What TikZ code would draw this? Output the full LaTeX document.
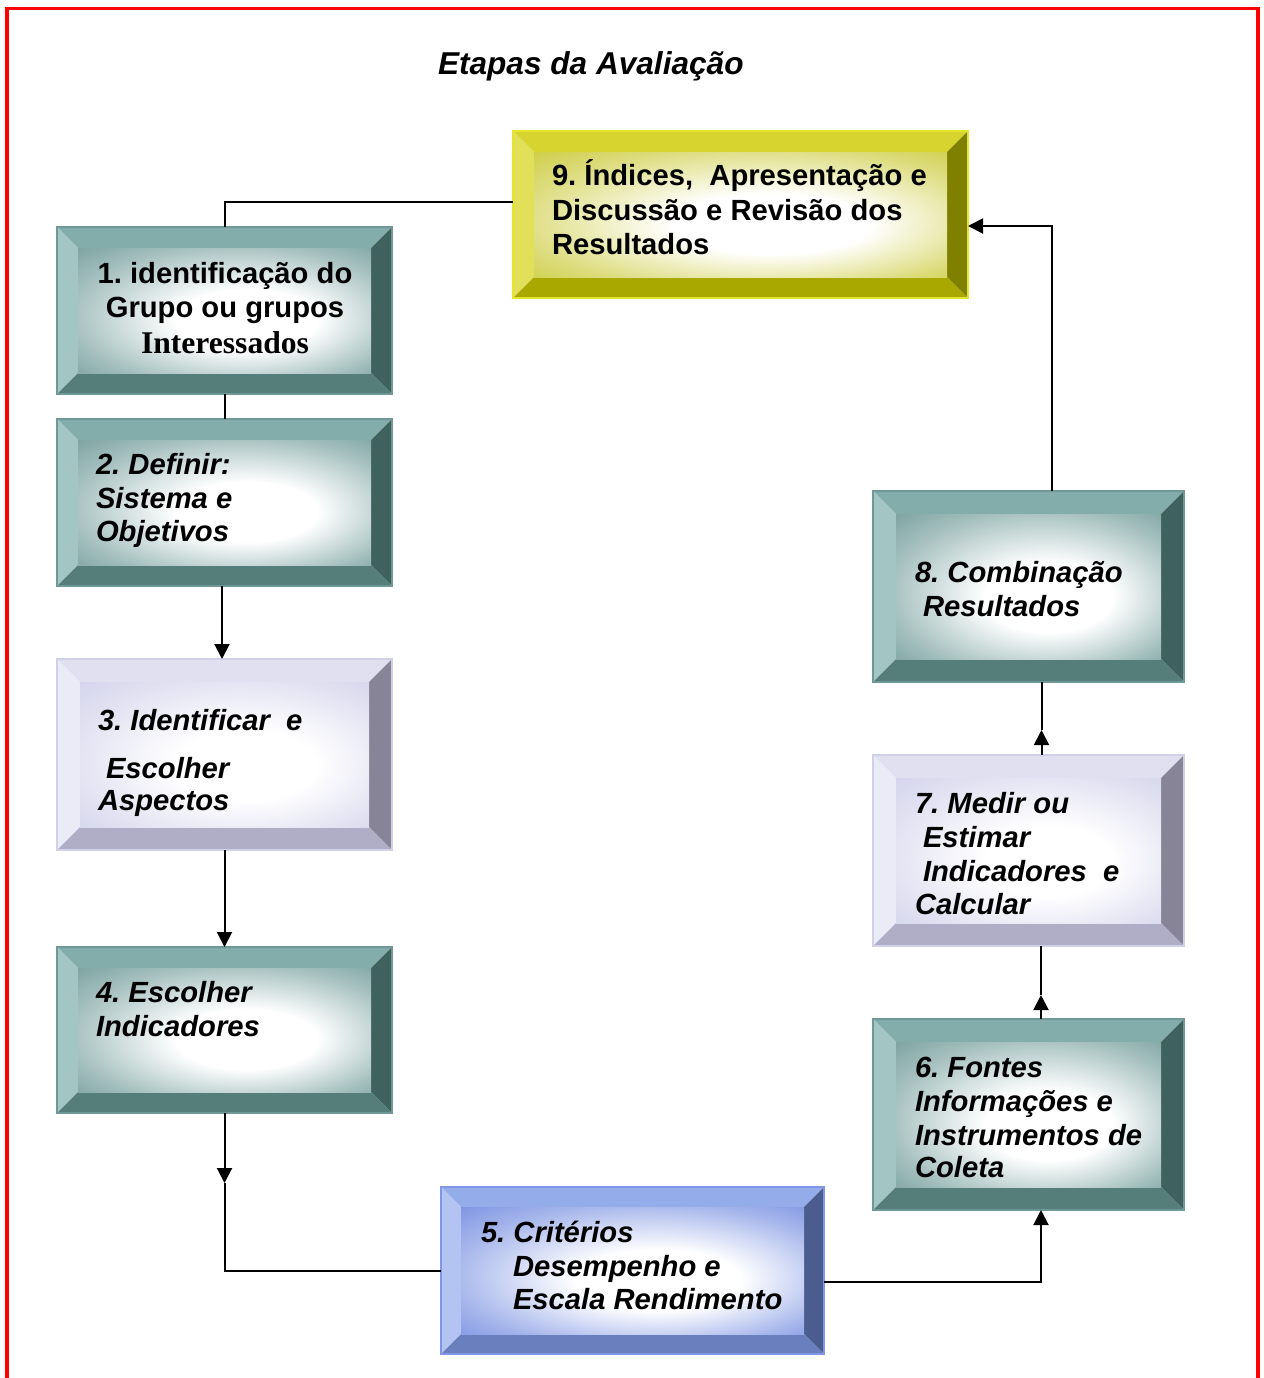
\documentclass[tikz,border=0pt]{standalone}
\usepackage{fontspec}
\setmainfont{Liberation Sans}
\newfontfamily\timesbold{Liberation Serif}
\usetikzlibrary{calc,fit,arrows.meta}
\frenchspacing

% bevel palettes: T top, L left, R right, B bottom, F face tint, E outline
\definecolor{tealT}{HTML}{82ADAA}
\definecolor{tealL}{HTML}{A3C5C3}
\definecolor{tealR}{HTML}{3F625F}
\definecolor{tealB}{HTML}{557E7B}
\definecolor{tealF}{HTML}{7AA2A0}
\definecolor{tealE}{HTML}{6F9896}
\definecolor{lavT}{HTML}{E0E0F0}
\definecolor{lavL}{HTML}{EBEBF7}
\definecolor{lavR}{HTML}{868496}
\definecolor{lavB}{HTML}{B0AEC6}
\definecolor{lavF}{HTML}{D4D4EC}
\definecolor{lavE}{HTML}{D0D0E6}
\definecolor{bluT}{HTML}{95ACEB}
\definecolor{bluL}{HTML}{B3C4F3}
\definecolor{bluR}{HTML}{4A5D8E}
\definecolor{bluB}{HTML}{6A80BE}
\definecolor{bluF}{HTML}{7C93E2}
\definecolor{bluE}{HTML}{7F97E6}
\definecolor{yelT}{HTML}{D7D430}
\definecolor{yelL}{HTML}{E2DF58}
\definecolor{yelR}{HTML}{7F7F00}
\definecolor{yelB}{HTML}{A9A800}
\definecolor{yelF}{HTML}{CECD45}
\definecolor{yelE}{HTML}{E5E530}

% face shadings: white glow slightly right of and below the centre, tinted rim
\newcommand\faceshading[1]{%
  \pgfdeclareradialshading{#1face}{\pgfpoint{5bp}{-5bp}}{%
    color(0bp)=(white); color(12bp)=(white); color(29bp)=(#1F!70);
    color(38bp)=(#1F); color(50bp)=(#1F)}}
\faceshading{teal}
\faceshading{lav}
\faceshading{blu}
\faceshading{yel}

\tikzset{
  lbl/.style={anchor=base west, inner sep=0pt, outer sep=0pt,
    font=\fontsize{14.6}{17}\selectfont\bfseries},
  lbli/.style={lbl, font=\fontsize{14.6}{17}\selectfont\bfseries\itshape},
  link/.style={line width=1pt, black},
  arr/.style={link, -{Triangle[length=7.5pt,width=7.5pt]}},
}

% #1 name, #2-#5 outer corners, #6 bevel depth, #7 palette
\newcommand\bevelbox[7]{%
  \node[fit={(#2,#3) (#4,#5)}, inner sep=0pt, outer sep=0pt] (#1) {};
  \coordinate (#1-a) at ($(#1.north west)+(#6,#6)$);
  \coordinate (#1-b) at ($(#1.north east)+(-#6,#6)$);
  \coordinate (#1-c) at ($(#1.south east)+(-#6,-#6)$);
  \coordinate (#1-d) at ($(#1.south west)+(#6,-#6)$);
  \fill[#7T] (#1.north west) -- (#1.north east) -- (#1-b) -- (#1-a) -- cycle;
  \fill[#7L] (#1.north west) -- (#1-a) -- (#1-d) -- (#1.south west) -- cycle;
  \fill[#7R] (#1.north east) -- (#1.south east) -- (#1-c) -- (#1-b) -- cycle;
  \fill[#7B] (#1.south west) -- (#1-d) -- (#1-c) -- (#1.south east) -- cycle;
  \shade[shading=#7face] (#1-a) rectangle (#1-c);
  \draw[#7E, line width=0.6pt] (#1.north west) rectangle (#1.south east);
}

\begin{document}
\begin{tikzpicture}[x=0.5pt, y=-0.5pt]
\useasboundingbox (0,0) rectangle (1264,1378);

% frame
\draw[red, line width=1.8pt] (7,1378) -- (7,8.5) -- (1258,8.5) -- (1258,1378);

% title
\node[lbl, font=\fontsize{15.8}{18}\selectfont\bfseries\itshape] (title) at (438,74) {Etapas da Avaliação};

% boxes
\bevelbox{b9}{513}{131}{968}{298}{21}{yel}
\bevelbox{b1}{57}{227}{392}{394}{21}{teal}
\bevelbox{b2}{57}{419}{392}{586}{21}{teal}
\bevelbox{b3}{57}{659}{392}{850}{23}{lav}
\bevelbox{b4}{57}{947}{392}{1113}{21}{teal}
\bevelbox{b5}{441}{1187}{824}{1354}{20}{blu}
\bevelbox{b6}{873}{1019}{1184}{1210}{23}{teal}
\bevelbox{b7}{873}{755}{1184}{946}{23}{lav}
\bevelbox{b8}{873}{491}{1184}{682}{23}{teal}

% labels
\node[lbl] (t9a) at (552,185) {9. Índices,~ Apresentação e};
\node[lbl] (t9b) at (552,220) {Discussão e Revisão dos};
\node[lbl] (t9c) at (552,254) {Resultados};

\node[lbl, anchor=base] (t1a) at (225,283) {1. identificação do};
\node[lbl, anchor=base] (t1b) at (225,317) {Grupo ou grupos};
\node[lbl, anchor=base, font=\fontsize{15.8}{18}\selectfont\timesbold\bfseries] (t1c) at (225,353) {Interessados};

\node[lbli] (t2a) at (96,474) {2. Definir:};
\node[lbli] (t2b) at (96,508) {Sistema e};
\node[lbli] (t2c) at (96,541) {Objetivos};

\node[lbli] (t3a) at (98,730) {3. Identificar~ e};
\node[lbli] (t3b) at (106,778) {Escolher};
\node[lbli] (t3c) at (98,810) {Aspectos};

\node[lbli] (t4a) at (96,1002) {4. Escolher};
\node[lbli] (t4b) at (96,1036) {Indicadores};

\node[lbli] (t5a) at (481,1242) {5. Critérios};
\node[lbli] (t5b) at (513,1276) {Desempenho e};
\node[lbli] (t5c) at (513,1309) {Escala Rendimento};

\node[lbli] (t6a) at (915,1077) {6. Fontes};
\node[lbli] (t6b) at (915,1111) {Informações e};
\node[lbli] (t6c) at (915,1145) {Instrumentos de};
\node[lbli] (t6d) at (915,1177) {Coleta};

\node[lbli] (t7a) at (915,813) {7. Medir ou};
\node[lbli] (t7b) at (923,847) {Estimar};
\node[lbli] (t7c) at (923,881) {Indicadores~ e};
\node[lbli] (t7d) at (915,914) {Calcular};

\node[lbli] (t8a) at (915,582) {8. Combinação};
\node[lbli] (t8b) at (923,616) {Resultados};

% connectors
\draw[link] ([yshift=6.25pt]b9.west) -| (b1.north);
\draw[link] (b1.south) -- (b2.north);
\draw[arr] ([xshift=-1.25pt]b2.south) -- ([xshift=-1.25pt]b3.north);
\draw[arr] (b3.south) -- (b4.north);
\coordinate (k4) at (b4.south |- 0,1183);
\draw[arr] (b4.south) -- (k4);
\draw[link] (k4) |- (b5.west);
\draw[arr] ([yshift=-5.75pt]b5.east) -| ([xshift=6.25pt]b6.south);
\coordinate (k6) at ([xshift=6.25pt]b6.north |- 0,995);
\draw[arr] ([xshift=6.25pt]b6.north) -- (k6);
\draw[link] (k6) -- ([xshift=6.25pt]b7.south);
\coordinate (k7) at ([xshift=6.5pt]b7.north |- 0,730);
\draw[arr] ([xshift=6.5pt]b7.north) -- (k7);
\draw[link] (k7) -- ([xshift=6.5pt]b8.south);
\draw[arr] ([xshift=11.75pt]b8.north) |- ([yshift=-5.75pt]b9.east);
\end{tikzpicture}
\end{document}
